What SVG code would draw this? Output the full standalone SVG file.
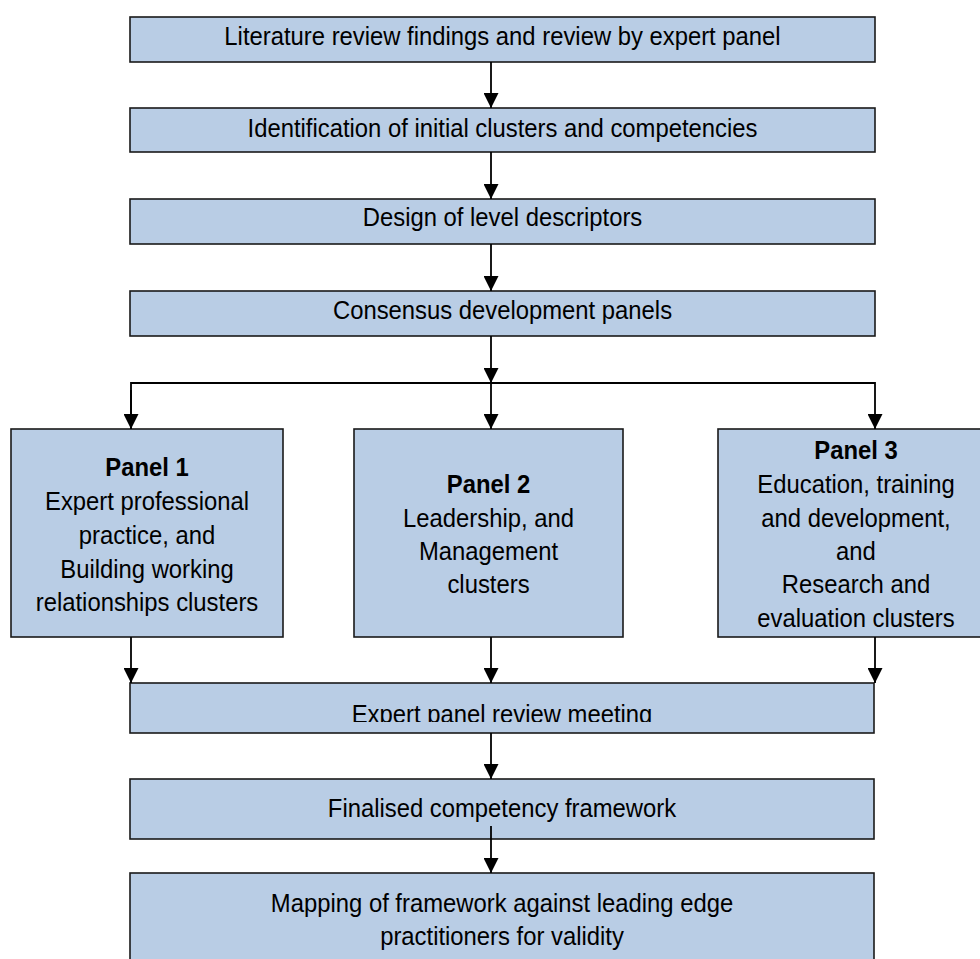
<svg xmlns="http://www.w3.org/2000/svg" width="980" height="959" viewBox="0 0 980 959">
<style>
.box{fill:#b9cde5;stroke:#1a1a1a;stroke-width:1.6}
.t{font-family:"Liberation Sans",Arial,sans-serif;font-size:26.5px;fill:#000;text-anchor:middle}
.b{font-weight:bold}
.c{fill:none;stroke:#000;stroke-width:1.8}
</style>
<defs>
<marker id="ah" markerUnits="userSpaceOnUse" markerWidth="15" markerHeight="15" refX="15" refY="7.5" orient="auto">
<path d="M0,0 L15,7.5 L0,15 z" fill="#000"/>
</marker>
<clipPath id="clipExpert"><rect x="130" y="683" width="744" height="39"/></clipPath>
</defs>
<rect width="980" height="959" fill="#fff"/>

<g id="n1">
<rect class="box" x="130" y="17" width="745" height="45"/>
<text class="t" transform="translate(502.5,45) scale(0.9,1)">Literature review findings and review by expert panel</text>
</g>
<g id="n2">
<rect class="box" x="130" y="108" width="745" height="44"/>
<text class="t" transform="translate(502.5,137) scale(0.9,1)">Identification of initial clusters and competencies</text>
</g>
<g id="n3">
<rect class="box" x="130" y="199" width="745" height="45"/>
<text class="t" transform="translate(502.5,226) scale(0.9,1)">Design of level descriptors</text>
</g>
<g id="n4">
<rect class="box" x="130" y="291" width="745" height="45"/>
<text class="t" transform="translate(502.5,319) scale(0.9,1)">Consensus development panels</text>
</g>
<g id="p1">
<rect class="box" x="11" y="429" width="272" height="208"/>
<text class="t b" transform="translate(147,476) scale(0.9,1)">Panel 1</text>
<text class="t" transform="translate(147,510) scale(0.9,1)">Expert professional</text>
<text class="t" transform="translate(147,544) scale(0.9,1)">practice, and</text>
<text class="t" transform="translate(147,577.5) scale(0.9,1)">Building working</text>
<text class="t" transform="translate(147,611) scale(0.9,1)">relationships clusters</text>
</g>
<g id="p2">
<rect class="box" x="354" y="429" width="269" height="208"/>
<text class="t b" transform="translate(488.5,493) scale(0.9,1)">Panel 2</text>
<text class="t" transform="translate(488.5,526.5) scale(0.9,1)">Leadership, and</text>
<text class="t" transform="translate(488.5,560) scale(0.9,1)">Management</text>
<text class="t" transform="translate(488.5,593) scale(0.9,1)">clusters</text>
</g>
<g id="p3">
<rect class="box" x="718" y="429" width="277" height="208"/>
<text class="t b" transform="translate(856,459) scale(0.9,1)">Panel 3</text>
<text class="t" transform="translate(856,493) scale(0.9,1)">Education, training</text>
<text class="t" transform="translate(856,526.5) scale(0.9,1)">and development,</text>
<text class="t" transform="translate(856,560) scale(0.9,1)">and</text>
<text class="t" transform="translate(856,593) scale(0.9,1)">Research and</text>
<text class="t" transform="translate(856,626.5) scale(0.9,1)">evaluation clusters</text>
</g>
<g id="n5">
<rect class="box" x="130" y="683" width="744" height="50"/>
<g clip-path="url(#clipExpert)">
<text class="t" transform="translate(502,722.5) scale(0.9,1)">Expert panel review meeting</text>
</g>
</g>
<g id="n6">
<rect class="box" x="130" y="779" width="744" height="60"/>
<text class="t" transform="translate(502,817) scale(0.9,1)">Finalised competency framework</text>
</g>
<g id="n7">
<rect class="box" x="130" y="873" width="744" height="90"/>
<text class="t" transform="translate(502,912) scale(0.9,1)">Mapping of framework against leading edge</text>
<text class="t" transform="translate(502,945) scale(0.9,1)">practitioners for validity</text>
</g>

<g id="connectors">
<line class="c" x1="491" y1="62" x2="491" y2="108" marker-end="url(#ah)"/>
<line class="c" x1="491" y1="152" x2="491" y2="199" marker-end="url(#ah)"/>
<line class="c" x1="491" y1="244" x2="491" y2="291" marker-end="url(#ah)"/>
<line class="c" x1="491" y1="336" x2="491" y2="383" marker-end="url(#ah)"/>
<polyline class="c" points="131,429 131,383 875,383 875,429" marker-end="url(#ah)"/>
<line class="c" x1="131" y1="390" x2="131" y2="429" marker-end="url(#ah)"/>
<line class="c" x1="491" y1="383" x2="491" y2="429" marker-end="url(#ah)"/>
<line class="c" x1="131" y1="637" x2="131" y2="683" marker-end="url(#ah)"/>
<line class="c" x1="491" y1="637" x2="491" y2="683" marker-end="url(#ah)"/>
<line class="c" x1="875" y1="637" x2="875" y2="683" marker-end="url(#ah)"/>
<line class="c" x1="491" y1="733" x2="491" y2="779" marker-end="url(#ah)"/>
<line class="c" x1="491" y1="826" x2="491" y2="873" marker-end="url(#ah)"/>
</g>
</svg>
